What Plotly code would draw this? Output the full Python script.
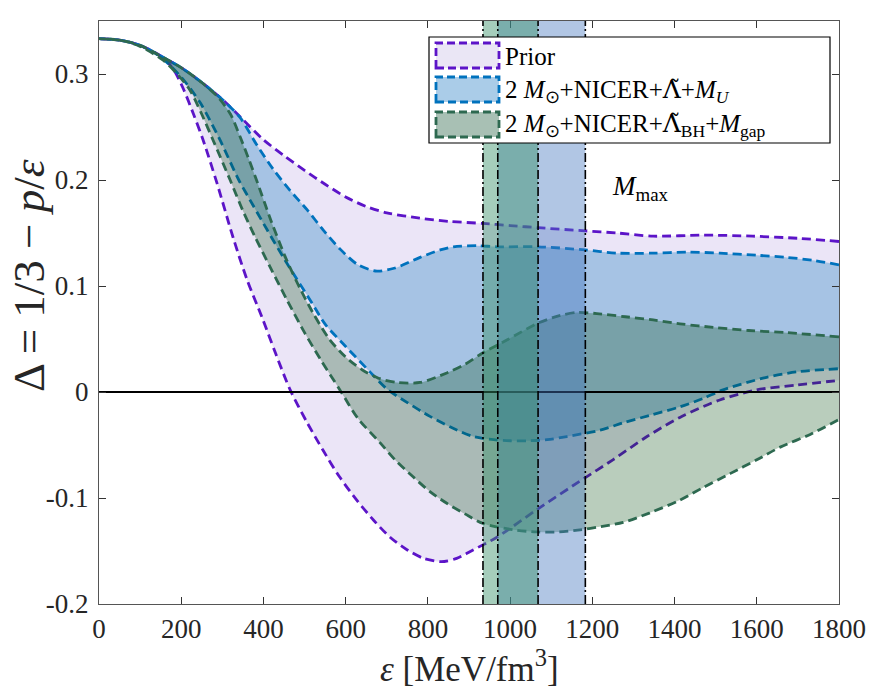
import plotly.graph_objects as go

# ---------------- data ----------------
prior_up_x = [0, 50, 100, 150, 200, 250, 300, 350, 400, 450, 500, 550, 600, 650, 700, 780, 850, 934, 1000, 1068, 1183, 1260, 1348, 1470, 1590, 1700, 1800]
prior_up_y = [0.3333, 0.332, 0.327, 0.317, 0.306, 0.292, 0.276, 0.257, 0.238, 0.223, 0.209, 0.196, 0.184, 0.175, 0.169, 0.164, 0.161, 0.159, 0.157, 0.155, 0.152, 0.150, 0.147, 0.148, 0.147, 0.145, 0.142]

prior_lo_x = [0, 50, 100, 150, 180, 204, 230, 253, 287, 326, 360, 396, 430, 465, 505, 545, 585, 627, 668, 708, 750, 790, 833, 870, 910, 968, 1065, 1182, 1250, 1333, 1413, 1510, 1600, 1698, 1800]
prior_lo_y = [0.3333, 0.332, 0.327, 0.317, 0.305, 0.287, 0.262, 0.238, 0.197, 0.146, 0.106, 0.071, 0.036, 0.002, -0.028, -0.055, -0.080, -0.102, -0.121, -0.137, -0.149, -0.157, -0.160, -0.157, -0.149, -0.137, -0.111, -0.081, -0.064, -0.042, -0.024, -0.0075, 0.002, 0.0066, 0.011]

blue_up_x = [0, 50, 100, 150, 200, 250, 300, 343, 384, 424, 465, 506, 545, 586, 630, 676, 720, 781, 830, 862, 920, 968, 1068, 1183, 1260, 1348, 1430, 1510, 1600, 1673, 1740, 1800]
blue_up_y = [0.3333, 0.332, 0.327, 0.317, 0.306, 0.292, 0.276, 0.259, 0.233, 0.210, 0.190, 0.172, 0.153, 0.135, 0.120, 0.114, 0.117, 0.127, 0.134, 0.137, 0.138, 0.137, 0.137, 0.134, 0.131, 0.131, 0.132, 0.131, 0.129, 0.127, 0.124, 0.120]

blue_lo_x = [0, 50, 100, 150, 200, 246, 294, 340, 375, 409, 450, 482, 518, 550, 600, 659, 700, 750, 805, 860, 910, 960, 1000, 1041, 1090, 1138, 1219, 1275, 1340, 1413, 1470, 1518, 1615, 1698, 1800]
blue_lo_y = [0.3333, 0.332, 0.327, 0.316, 0.297, 0.273, 0.238, 0.200, 0.176, 0.153, 0.126, 0.106, 0.084, 0.064, 0.043, 0.019, 0.003, -0.010, -0.023, -0.034, -0.042, -0.045, -0.046, -0.046, -0.045, -0.042, -0.036, -0.029, -0.022, -0.014, -0.006, 0.002, 0.013, 0.019, 0.022]

green_up_x = [0, 50, 100, 150, 200, 250, 290, 320, 343, 365, 384, 420, 457, 490, 520, 560, 600, 640, 680, 724, 781, 846, 890, 934, 992, 1068, 1120, 1162, 1211, 1280, 1348, 1420, 1494, 1580, 1673, 1800]
green_up_y = [0.3333, 0.332, 0.327, 0.317, 0.306, 0.292, 0.278, 0.262, 0.241, 0.219, 0.199, 0.160, 0.124, 0.097, 0.075, 0.050, 0.033, 0.021, 0.013, 0.009, 0.009, 0.018, 0.026, 0.037, 0.049, 0.065, 0.072, 0.075, 0.074, 0.071, 0.068, 0.064, 0.061, 0.058, 0.056, 0.052]

green_lo_x = [0, 50, 100, 156, 190, 221, 250, 277, 319, 350, 380, 420, 457, 500, 540, 586, 630, 684, 720, 764, 805, 846, 890, 934, 1007, 1065, 1120, 1170, 1220, 1275, 1340, 1413, 1470, 1535, 1600, 1657, 1730, 1800]
green_lo_y = [0.3333, 0.332, 0.326, 0.313, 0.300, 0.285, 0.262, 0.238, 0.200, 0.171, 0.146, 0.115, 0.087, 0.056, 0.030, 0.002, -0.025, -0.048, -0.064, -0.080, -0.094, -0.105, -0.115, -0.124, -0.130, -0.132, -0.132, -0.130, -0.127, -0.123, -0.114, -0.102, -0.090, -0.077, -0.064, -0.052, -0.040, -0.026]

# M_max intervals (energy density)
mmax_green = [934, 1068]
mmax_blue = [970, 1183]

zero_x = [0, 1800]
zero_y = [0, 0]

LAMT = "<span style=\"font-family:'DejaVu Serif';font-style:normal\">Λ̃</span>"
legend_labels = [
    "Prior",
    "2 <i>M</i><sub>⊙</sub>+NICER+" + LAMT + "+<i>M</i><sub><i>U</i></sub>",
    "2 <i>M</i><sub>⊙</sub>+NICER+" + LAMT + "<sub>BH</sub>+<i>M</i><sub>gap</sub>",
]

x_ticks = [0, 200, 400, 600, 800, 1000, 1200, 1400, 1600, 1800]
y_ticks = [-0.2, -0.1, 0, 0.1, 0.2, 0.3]
y_ticktext = ["-0.2", "-0.1", "0", "0.1", "0.2", "0.3"]

# ---------------- style ----------------
FONT = "Liberation Serif"
PURPLE = "rgb(92,20,200)"
BLUE = "rgb(0,114,189)"
GREEN = "rgb(45,105,80)"
DASH = "9px,5px"

fig = go.Figure()


def band(xu, yu, xl, yl, fill, line):
    xs = list(reversed(xu)) + list(xl)
    ys = list(reversed(yu)) + list(yl)
    fig.add_trace(go.Scatter(
        x=xs, y=ys, mode="lines", fill="toself", fillcolor=fill,
        line=dict(color=line, width=2.8, dash=DASH, shape="spline", smoothing=0.8),
        showlegend=False, hoverinfo="skip"))


band(prior_up_x, prior_up_y, prior_lo_x, prior_lo_y, "rgba(120,80,200,0.15)", PURPLE)
band(blue_up_x, blue_up_y, blue_lo_x, blue_lo_y, "rgba(37,133,193,0.35)", BLUE)
band(green_up_x, green_up_y, green_lo_x, green_lo_y, "rgba(5,76,15,0.28)", GREEN)

fig.add_trace(go.Scatter(x=zero_x, y=zero_y, mode="lines",
                         line=dict(color="black", width=2), showlegend=False, hoverinfo="skip"))

shapes = []
# vertical M_max bands
shapes.append(dict(type="rect", xref="x", yref="paper", x0=mmax_blue[0], x1=mmax_blue[1], y0=0, y1=1,
                   fillcolor="rgba(70,120,190,0.42)", line=dict(width=0), layer="above"))
shapes.append(dict(type="rect", xref="x", yref="paper", x0=mmax_green[0], x1=mmax_green[1], y0=0, y1=1,
                   fillcolor="rgba(55,145,105,0.45)", line=dict(width=0), layer="above"))
for xv in sorted(mmax_green + mmax_blue):
    shapes.append(dict(type="line", xref="x", yref="paper", x0=xv, x1=xv, y0=0, y1=1,
                       line=dict(color="black", width=1.6, dash="9px,3px,2px,3px"), layer="above"))

# legend (drawn manually)
L, T, B = 99, 21, 604
W, H = 740, 583


def px(x):
    return (x - L) / W


def py(y):
    return (B - y) / H


shapes.append(dict(type="rect", xref="paper", yref="paper", x0=px(429), x1=px(830), y0=py(143), y1=py(37),
                   fillcolor="white", line=dict(color="black", width=1.2), layer="above"))
patch_fill = ["rgb(234,230,245)", "rgb(170,204,232)", "rgb(168,192,180)"]
patch_line = [PURPLE, BLUE, GREEN]
rows = [(43, 68), (77, 102), (112, 137)]
for (t, b), fc, lc in zip(rows, patch_fill, patch_line):
    shapes.append(dict(type="rect", xref="paper", yref="paper", x0=px(436), x1=px(499), y0=py(b), y1=py(t),
                       fillcolor=fc, line=dict(color=lc, width=2.8, dash="8px,4px"), layer="above"))

annotations = []
for (t, b), lab in zip(rows, legend_labels):
    annotations.append(dict(xref="paper", yref="paper", x=px(503), y=py((t + b) / 2 + 1), text=lab,
                            showarrow=False, xanchor="left", yanchor="middle",
                            font=dict(family=FONT, size=25, color="black")))

# axis titles
annotations.append(dict(xref="paper", yref="paper", x=px(29), y=py(276), text="Δ = 1/3 − <i>p</i>/<i>ε</i>",
                        textangle=-90, showarrow=False, xanchor="center", yanchor="middle",
                        font=dict(family=FONT, size=45, color="#262626")))
annotations.append(dict(xref="paper", yref="paper", x=px(469), y=py(666), text="<i>ε</i> [MeV/fm<sup>3</sup>]",
                        showarrow=False, xanchor="center", yanchor="middle",
                        font=dict(family=FONT, size=35, color="#262626")))
# M_max label
annotations.append(dict(xref="x", yref="y", x=1316, y=0.192, text="<i>M</i><sub>max</sub>",
                        showarrow=False, xanchor="center", yanchor="middle",
                        font=dict(family=FONT, size=27, color="black")))

axis_common = dict(showline=True, linecolor="#555555", linewidth=1.2, mirror="ticks",
                   ticks="inside", ticklen=7, tickcolor="#333333", tickwidth=1.2,
                   showgrid=False, zeroline=False,
                   tickfont=dict(family=FONT, size=27, color="#262626"))

fig.update_layout(
    width=878, height=696,
    margin=dict(l=L, r=878 - 839, t=T, b=696 - B),
    paper_bgcolor="white", plot_bgcolor="white",
    showlegend=False,
    xaxis=dict(range=[0, 1800], tickvals=x_ticks, ticktext=[str(v) for v in x_ticks], **axis_common),
    yaxis=dict(range=[-0.2, 0.35], tickvals=y_ticks, ticktext=y_ticktext, ticklabelstandoff=4, **axis_common),
    shapes=shapes, annotations=annotations,
)

fig.write_html("out.html")
